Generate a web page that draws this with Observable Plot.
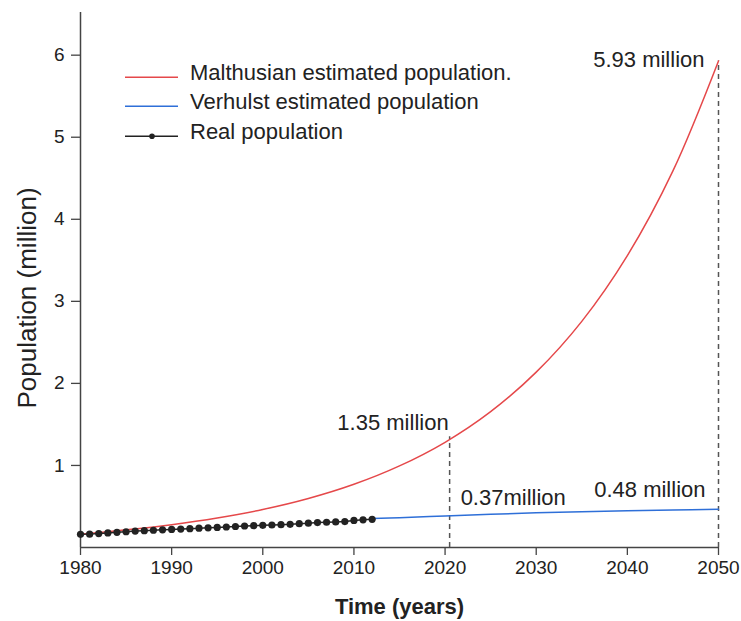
<!DOCTYPE html>
<html>
<head>
<meta charset="utf-8">
<script src="https://cdn.jsdelivr.net/npm/d3@7"></script>
<script src="https://cdn.jsdelivr.net/npm/@observablehq/plot@0.6"></script>
<style>
  html, body { margin: 0; padding: 0; background: #fff; }
  #wrap { position: relative; width: 741px; height: 621px; font-family: "Liberation Sans", Arial, sans-serif; }
  #wrap svg g[aria-label="x-axis tick label"], #wrap svg g[aria-label="y-axis tick label"] { font-size: 19px !important; }
  #legend { position: absolute; left: 125px; top: 57.5px; color: #222; font-size: 22px; }
  .row { display: flex; align-items: flex-start; height: 29.7px; line-height: 29.7px; white-space: nowrap; }
  .row svg { margin-right: 12px; flex: none; }
</style>
</head>
<body>
<div id="wrap"><div id="legend"></div></div>
<script>
// ---- data ----
const realYears = [1980,1981,1982,1983,1984,1985,1986,1987,1988,1989,1990,1991,1992,1993,1994,1995,1996,1997,1998,1999,2000,2001,2002,2003,2004,2005,2006,2007,2008,2009,2010,2011,2012];
const realValues = [0.16,0.163,0.17,0.178,0.185,0.192,0.2,0.205,0.21,0.215,0.22,0.225,0.23,0.235,0.24,0.245,0.25,0.256,0.262,0.266,0.27,0.274,0.278,0.282,0.29,0.297,0.304,0.308,0.312,0.316,0.33,0.337,0.343];

const malthusYears = [1980,1985,1990,1995,2000,2005,2010,2015,2020,2025,2030,2035,2040,2045,2050];
const malthusValues = [0.16,0.215,0.278,0.359,0.463,0.597,0.77,0.994,1.282,1.655,2.137,2.756,3.557,4.59,5.93];

const verhulstYears = [2012,2015,2020,2025,2030,2035,2040,2045,2050];
const verhulstValues = [0.352,0.362,0.385,0.405,0.422,0.436,0.448,0.457,0.465];

const markYears = [2020.5, 2050];
const markValues = [1.35, 5.93];

const xTicks = [1980,1990,2000,2010,2020,2030,2040,2050];
const yTicks = [1,2,3,4,5,6];

const seriesNames = ["Malthusian estimated population.", "Verhulst estimated population", "Real population"];
const seriesColors = ["#e5484a", "#2e6fd8", "#222222"];

// ---- tables ----
const real = realYears.map((y, i) => ({year: y, value: realValues[i]}));
const malthus = malthusYears.map((y, i) => ({year: y, value: malthusValues[i]}));
const verhulst = verhulstYears.map((y, i) => ({year: y, value: verhulstValues[i]}));
const marks = markYears.map((y, i) => ({year: y, value: markValues[i]}));

const annotMal2020 = [{year: 2020.5, value: 1.35, label: "1.35 million"}];
const annotMal2050 = [{year: 2050, value: 5.93, label: "5.93 million"}];
const annotVer2020 = [{year: 2020.5, value: 0.37, label: "0.37million"}];
const annotVer2050 = [{year: 2050, value: 0.48, label: "0.48 million"}];

const axisColor = "#444";

const chart = Plot.plot({
  width: 741,
  height: 621,
  marginLeft: 80,
  marginRight: 23,
  marginTop: 12,
  marginBottom: 74,
  x: {domain: [1980, 2050]},
  y: {domain: [0, 6.52]},
  style: {fontFamily: "Liberation Sans, Arial, sans-serif", fontSize: "18px", color: "#222", background: "#fff"},
  marks: [
    Plot.axisX({ticks: xTicks, tickFormat: d => String(d), tickSize: 8, tickPadding: 5, fontSize: 19, label: null, stroke: axisColor, strokeWidth: 1.3}),
    Plot.axisY({ticks: yTicks, tickFormat: d => String(d), tickSize: 9, tickPadding: 7, fontSize: 19, label: null, stroke: axisColor, strokeWidth: 1.3}),
    Plot.ruleY([0], {stroke: axisColor, strokeWidth: 1.5}),
    Plot.ruleX([1980], {stroke: axisColor, strokeWidth: 1.5}),
    Plot.ruleX(marks, {x: "year", y1: 0, y2: "value", stroke: "#555", strokeWidth: 1.5, strokeDasharray: "5,4"}),
    Plot.line(malthus, {x: "year", y: "value", stroke: seriesColors[0], strokeWidth: 1.5, curve: "catmull-rom"}),
    Plot.line(verhulst, {x: "year", y: "value", stroke: seriesColors[1], strokeWidth: 1.5, curve: "catmull-rom"}),
    Plot.line(real, {x: "year", y: "value", stroke: seriesColors[2], strokeWidth: 1.5}),
    Plot.dot(real, {x: "year", y: "value", r: 3.6, fill: seriesColors[2], stroke: "none"}),
    Plot.text(annotMal2020, {x: "year", y: "value", text: "label", textAnchor: "end", dx: -1, dy: -14, fontSize: 22, fill: "#222"}),
    Plot.text(annotMal2050, {x: "year", y: "value", text: "label", textAnchor: "end", dx: -14, dy: -1, fontSize: 22, fill: "#222"}),
    Plot.text(annotVer2020, {x: "year", y: "value", text: "label", textAnchor: "start", dx: 11, dy: -19, fontSize: 22, fill: "#222"}),
    Plot.text(annotVer2050, {x: "year", y: "value", text: "label", textAnchor: "end", dx: -13, dy: -18, fontSize: 22, fill: "#222"}),
    Plot.text(["Population (million)"], {frameAnchor: "left", textAnchor: "middle", lineAnchor: "middle", rotate: -90, dx: -53, dy: 18, fontSize: 26, fill: "#222"}),
    Plot.text(["Time (years)"], {frameAnchor: "bottom", textAnchor: "middle", dy: 66, fontSize: 22, fontWeight: "bold", fill: "#222"})
  ]
});

const wrap = document.getElementById("wrap");
wrap.insertBefore(chart, wrap.firstChild);

// legend
const legend = document.getElementById("legend");
seriesNames.forEach((name, i) => {
  const row = document.createElement("div");
  row.className = "row";
  const ns = "http://www.w3.org/2000/svg";
  const svg = document.createElementNS(ns, "svg");
  svg.setAttribute("width", "53");
  svg.setAttribute("height", "29.7");
  const line = document.createElementNS(ns, "line");
  line.setAttribute("x1", "0"); line.setAttribute("x2", "53");
  line.setAttribute("y1", "19.2"); line.setAttribute("y2", "19.2");
  line.setAttribute("stroke", seriesColors[i]);
  line.setAttribute("stroke-width", "1.5");
  svg.appendChild(line);
  if (i === 2) {
    const c = document.createElementNS(ns, "circle");
    c.setAttribute("cx", "27"); c.setAttribute("cy", "19.2"); c.setAttribute("r", "2.8");
    c.setAttribute("fill", seriesColors[i]);
    svg.appendChild(c);
  }
  row.appendChild(svg);
  const span = document.createElement("span");
  span.textContent = name;
  row.appendChild(span);
  legend.appendChild(row);
});
chart.style.position = "absolute";
chart.style.left = "0";
chart.style.top = "0";
</script>
</body>
</html>
